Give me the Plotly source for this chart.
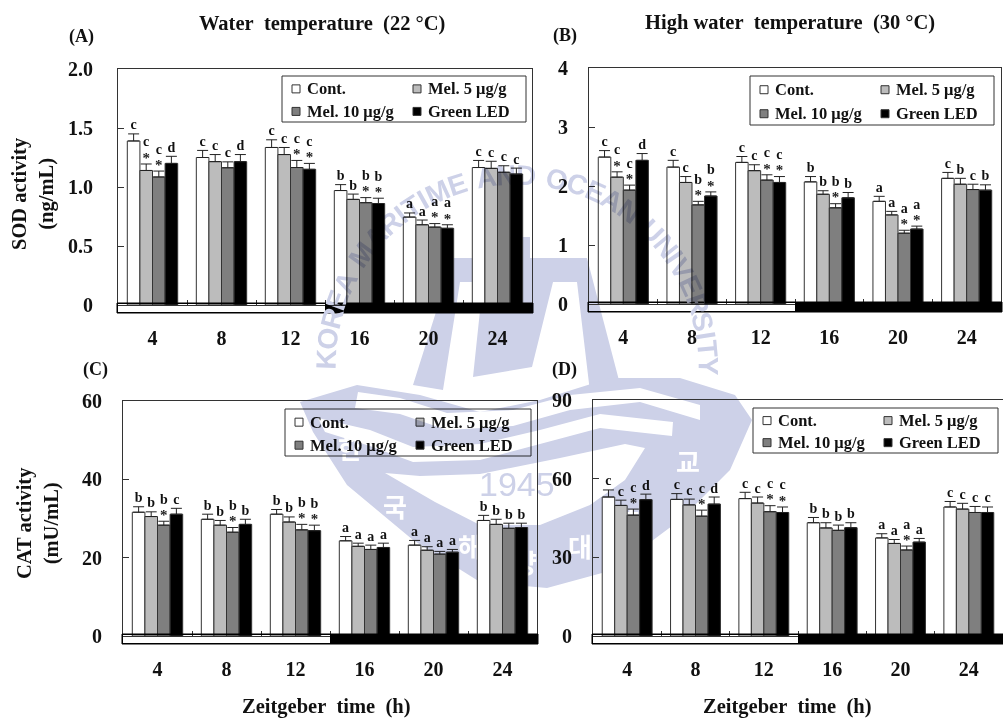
import math
import plotly.graph_objects as go

W, H = 1003, 720
GROUPS = [1, 2, 3, 4, 5, 6]
HOURS = ["4", "8", "12", "16", "20", "24"]
SERIES = ["Cont.", "Mel. 5 μg/g", "Mel. 10 μg/g", "Green LED"]
COLORS = ["#ffffff", "#bcbcbc", "#7f7f7f", "#000000"]

sod22_cont = [1.39, 1.25, 1.335, 0.97, 0.745, 1.165]
sod22_mel5 = [1.14, 1.215, 1.275, 0.895, 0.68, 1.158]
sod22_mel10 = [1.085, 1.163, 1.165, 0.867, 0.66, 1.125]
sod22_led = [1.20, 1.215, 1.15, 0.86, 0.65, 1.11]
sod22_cont_err = [0.06, 0.06, 0.065, 0.05, 0.035, 0.06]
sod22_mel5_err = [0.055, 0.06, 0.06, 0.045, 0.04, 0.06]
sod22_mel10_err = [0.05, 0.05, 0.06, 0.043, 0.03, 0.055]
sod22_led_err = [0.06, 0.06, 0.05, 0.045, 0.03, 0.05]
sod22_letters = ["cccd", "cccd", "cccc", "bbbb", "aaaa", "cccc"]
sod22_stars = ["0110", "0000", "0011", "0011", "0011", "0000"]

sod30_cont = [2.49, 2.32, 2.40, 2.07, 1.74, 2.13]
sod30_mel5 = [2.15, 2.06, 2.26, 1.86, 1.51, 2.03]
sod30_mel10 = [1.93, 1.68, 2.10, 1.63, 1.20, 1.94]
sod30_led = [2.435, 1.83, 2.06, 1.80, 1.27, 1.93]
sod30_cont_err = [0.11, 0.115, 0.10, 0.09, 0.085, 0.10]
sod30_mel5_err = [0.09, 0.10, 0.10, 0.06, 0.06, 0.10]
sod30_mel10_err = [0.085, 0.06, 0.09, 0.07, 0.05, 0.09]
sod30_led_err = [0.115, 0.07, 0.10, 0.09, 0.05, 0.09]
sod30_letters = ["cccd", "ccbb", "cccc", "bbbb", "aaaa", "cbcb"]
sod30_stars = ["0110", "0011", "0011", "0010", "0011", "0000"]

cat22_cont = [31.6, 29.8, 31.1, 24.3, 23.2, 29.5]
cat22_mel5 = [30.5, 28.3, 29.1, 22.9, 21.9, 28.5]
cat22_mel10 = [28.3, 26.5, 27.1, 22.1, 20.9, 27.5]
cat22_led = [31.1, 28.5, 26.9, 22.6, 21.4, 27.7]
cat22_cont_err = [1.4, 1.3, 1.2, 1.1, 1.2, 1.3]
cat22_mel5_err = [1.2, 1.2, 1.3, 0.8, 0.9, 1.3]
cat22_mel10_err = [1.0, 1.2, 1.4, 1.1, 0.7, 1.3]
cat22_led_err = [1.5, 1.3, 1.4, 1.1, 0.7, 1.1]
cat22_letters = ["bbbc", "bbbb", "bbbb", "aaaa", "aaaa", "bbbb"]
cat22_stars = ["0010", "0010", "0011", "0000", "0000", "0000"]

cat30_cont = [53, 52.1, 52.4, 43.2, 37.4, 49.2]
cat30_mel5 = [49.8, 50, 50.7, 41.2, 35.3, 48.4]
cat30_mel10 = [46.1, 45.7, 47.4, 40.3, 32.8, 47.1]
cat30_led = [52, 50.3, 47.1, 41.3, 35.8, 47.1]
cat30_cont_err = [2.7, 2.2, 2.4, 2.0, 1.6, 2.1]
cat30_mel5_err = [2.0, 2.2, 2.3, 2.0, 1.5, 2.2]
cat30_mel10_err = [2.3, 2.3, 2.3, 2.0, 1.5, 2.3]
cat30_led_err = [2.1, 2.7, 2.1, 1.9, 1.4, 2.1]
cat30_letters = ["cccd", "cccd", "cccc", "bbbb", "aaaa", "cccc"]
cat30_stars = ["0010", "0010", "0011", "0000", "0010", "0000"]

FONT = "Liberation Serif"
INK = "#111111"


def X(px):
    return px / W


def Y(py):
    return 1 - py / H


panels = [
    dict(key="A", vals=[sod22_cont, sod22_mel5, sod22_mel10, sod22_led],
         errs=[sod22_cont_err, sod22_mel5_err, sod22_mel10_err, sod22_led_err],
         letters=sod22_letters, stars=sod22_stars,
         box=(118, 532, 69, 305), top=2.0, ticks=[0, 0.5, 1, 1.5, 2],
         ticktext=["0", "0.5", "1.0", "1.5", "2.0"], legend=(282, 526, 76, 122), standoff=24),
    dict(key="B", vals=[sod30_cont, sod30_mel5, sod30_mel10, sod30_led],
         errs=[sod30_cont_err, sod30_mel5_err, sod30_mel10_err, sod30_led_err],
         letters=sod30_letters, stars=sod30_stars,
         box=(589, 1001, 68, 304), top=4, ticks=[0, 1, 2, 3, 4],
         ticktext=["0", "1", "2", "3", "4"], legend=(750, 994, 76, 125), standoff=20),
    dict(key="C", vals=[cat22_cont, cat22_mel5, cat22_mel10, cat22_led],
         errs=[cat22_cont_err, cat22_mel5_err, cat22_mel10_err, cat22_led_err],
         letters=cat22_letters, stars=cat22_stars,
         box=(123, 537, 401, 636), top=60, ticks=[0, 20, 40, 60],
         ticktext=["0", "20", "40", "60"], legend=(285, 531, 409, 456), standoff=20),
    dict(key="D", vals=[cat30_cont, cat30_mel5, cat30_mel10, cat30_led],
         errs=[cat30_cont_err, cat30_mel5_err, cat30_mel10_err, cat30_led_err],
         letters=cat30_letters, stars=cat30_stars,
         box=(593, 1003, 400, 636), top=90, ticks=[0, 30, 60, 90],
         ticktext=["0", "30", "60", "90"], legend=(753, 998, 408, 453), standoff=20),
]

fig = go.Figure()
shapes, annos = [], []
WM = "#cdd1e8"


def wm_poly(points, color=WM):
    path = "M " + " L ".join(f"{X(a):.5f},{Y(b):.5f}" for a, b in points) + " Z"
    shapes.append(dict(type="path", xref="paper", yref="paper", path=path,
                       fillcolor=color, line=dict(width=0), layer="below"))


# University seal watermark, behind the charts
wm_poly([(507, 237), (530, 237), (530, 260), (507, 260)])
wm_poly([(453, 258), (587, 258), (621, 388), (590, 392), (577, 282), (553, 282), (532, 367), (473, 377),
         (483, 282), (460, 282), (443, 390), (413, 385)])
wm_poly([(300, 402), (357, 385), (420, 395), (480, 412), (540, 400), (610, 378), (680, 378), (735, 395), (752, 420),
         (730, 470), (680, 520), (613, 570), (547, 588), (480, 582), (413, 540), (347, 485), (313, 432)])
wm_poly([(358, 392), (400, 398), (447, 413), (513, 410), (570, 395), (640, 388), (700, 405), (700, 420), (640, 402),
         (570, 410), (513, 426), (447, 430), (400, 414), (355, 408)], "#ffffff")
wm_poly([(318, 418), (370, 430), (413, 447), (480, 444), (540, 430), (600, 414), (673, 422), (672, 436), (600, 428),
         (540, 444), (480, 460), (413, 462), (370, 446), (325, 432)], "#ffffff")
wm_poly([(385, 473), (420, 476), (480, 474), (560, 458), (625, 444), (645, 448), (625, 480), (590, 505),
         (540, 525), (480, 525), (435, 502)], "#ffffff")
wm_text = "KOREA MARITIME AND OCEAN UNIVERSITY"
wm_adv = {"I": 0.33, "M": 0.9, " ": 0.4, "E": 0.7, "T": 0.68, "Y": 0.7, "S": 0.7, "A": 0.76, "R": 0.76, "K": 0.76,
          "O": 0.82, "N": 0.76, "D": 0.76, "C": 0.76, "U": 0.76, "V": 0.72}
wm_cx, wm_cy, wm_r = 517, 366, 191
wm_w = [wm_adv[c] for c in wm_text]
wm_pos, wm_run = [], 0.0
for w in wm_w:
    wm_pos.append(wm_run + w / 2)
    wm_run += w
for ch, pos in zip(wm_text, wm_pos):
    if ch == " ":
        continue
    ang = -181 + 184 * pos / wm_run
    a = math.radians(ang)
    annos.append(dict(xref="paper", yref="paper", x=X(wm_cx + wm_r * math.cos(a)), y=Y(wm_cy + wm_r * math.sin(a)),
                      text=f"<b>{ch}</b>", showarrow=False, textangle=ang + 90, xanchor="center", yanchor="middle",
                      font=dict(family="Liberation Sans", size=28, color=WM)))
annos.append(dict(xref="paper", yref="paper", x=X(517), y=Y(484), text="1945", showarrow=False,
                  xanchor="center", yanchor="middle",
                  font=dict(family="Liberation Sans", size=34, color=WM)))
# white seal lettering on the ring, in a full-page background subplot under the panels
seal_chars = list("한국해양대학교")
seal_px = [350, 395, 470, 525, 580, 635, 688]
seal_py = [452, 510, 550, 566, 550, 525, 465]
fig.add_trace(go.Scatter(x=seal_px, y=seal_py, text=seal_chars, mode="text", xaxis="x", yaxis="y", showlegend=False,
                         textfont=dict(family="Noto Sans CJK KR", size=26, color="#ffffff", weight="bold"),
                         cliponaxis=False))

layout_axes = dict(
    xaxis=dict(domain=[0, 1], range=[0, W], visible=False, anchor="y", automargin=False),
    yaxis=dict(domain=[0, 1], range=[H, 0], visible=False, anchor="x", automargin=False),
)
for n, p in enumerate(panels, start=2):
    suffix = str(n)
    xa, ya = "x" + suffix, "y" + suffix
    L, R, T, B = p["box"]
    unit = p["top"] / (B - T)
    for s, name in enumerate(SERIES):
        fig.add_trace(go.Bar(
            x=GROUPS, y=p["vals"][s], name=name, xaxis=xa, yaxis=ya, showlegend=False,
            marker=dict(color=COLORS[s], line=dict(color="#333333", width=1)),
            error_y=dict(type="data", symmetric=False, array=p["errs"][s], arrayminus=[0] * 6,
                         color="#222222", thickness=1, width=5.5)))
    lx, ly, tx, sx, sy = [], [], [], [], []
    for g in range(6):
        for s in range(4):
            cx = GROUPS[g] + (s - 1.5) * 0.73 / 4
            e = p["vals"][s][g] + p["errs"][s][g]
            star = p["stars"][g][s] == "1"
            if star:
                sx.append(cx)
                sy.append(e + 5 * unit)
            lx.append(cx)
            ly.append(e + (21 if star else 8) * unit)
            tx.append(p["letters"][g][s])
    fig.add_trace(go.Scatter(x=lx, y=ly, text=tx, mode="text", xaxis=xa, yaxis=ya, showlegend=False,
                             textfont=dict(family=FONT, size=14, color=INK, weight="bold"), cliponaxis=False))
    fig.add_trace(go.Scatter(x=sx, y=sy, text=["*"] * len(sx), mode="text", xaxis=xa, yaxis=ya, showlegend=False,
                             textposition="middle center",
                             textfont=dict(family=FONT, size=15, color="#222222", weight="bold"), cliponaxis=False))
    layout_axes["xaxis" + suffix] = dict(
        domain=[X(L), X(R)], range=[0.5, 6.5], anchor=ya, tickmode="array", tickvals=GROUPS, ticktext=HOURS,
        ticks="", showgrid=False, zeroline=False, showline=True, mirror=True, linecolor="#333333", linewidth=1,
        automargin=False, ticklabelstandoff=15, tickfont=dict(family=FONT, size=20, color=INK, weight="bold"),
        minor=dict(tickmode="array", tickvals=[1.5, 2.5, 3.5, 4.5, 5.5], ticks="inside", ticklen=5,
                   tickcolor="#333333", tickwidth=1, showgrid=False))
    layout_axes["yaxis" + suffix] = dict(
        domain=[Y(B), Y(T)], range=[0, p["top"]], anchor=xa, tickmode="array", tickvals=p["ticks"],
        ticktext=p["ticktext"], ticks="inside", ticklen=6, tickcolor="#333333", showgrid=False, zeroline=False,
        showline=True, mirror=True, linecolor="#333333", linewidth=1, automargin=False,
        ticklabelstandoff=p["standoff"] - 4, tickfont=dict(family=FONT, size=20, color=INK, weight="bold"))
    # day / night strip
    xmid = L + (R - L) / 2
    shapes.append(dict(type="rect", xref="paper", yref="paper", x0=X(L - 1), x1=X(R + 1), y0=Y(B + 8), y1=Y(B - 2),
                       fillcolor="#000000", line=dict(color="#000000", width=1), layer="above"))
    shapes.append(dict(type="rect", xref="paper", yref="paper", x0=X(L), x1=X(xmid), y0=Y(B + 7), y1=Y(B - 1),
                       fillcolor="#ffffff", line=dict(width=0), layer="above"))
    # legend box
    lL, lR, lT, lB = p["legend"]
    shapes.append(dict(type="rect", xref="paper", yref="paper", x0=X(lL), x1=X(lR), y0=Y(lB), y1=Y(lT),
                       fillcolor="rgba(255,255,255,0)", line=dict(color="#333333", width=1), layer="above"))
    rows = [lT + (lB - lT) * 0.28, lT + (lB - lT) * 0.77]
    cols = [lL + 10, lL + 131]
    for s, name in enumerate(SERIES):
        c, r = cols[s % 2], rows[s // 2]
        shapes.append(dict(type="rect", xref="paper", yref="paper", x0=X(c), x1=X(c + 8), y0=Y(r + 4), y1=Y(r - 4),
                           fillcolor=COLORS[s], line=dict(color="#333333", width=1), layer="above"))
        annos.append(dict(xref="paper", yref="paper", x=X(c + 13), y=Y(r), text=f"<b>{name}</b>", showarrow=False,
                          xanchor="left", yanchor="middle", font=dict(family=FONT, size=16.5, color=INK)))


def label(px, py, text, size, angle=0):
    annos.append(dict(xref="paper", yref="paper", x=X(px), y=Y(py), text=f"<b>{text}</b>", showarrow=False,
                      xanchor="center", yanchor="middle", textangle=angle,
                      font=dict(family=FONT, size=size, color=INK)))


label(322, 24, "Water&nbsp; temperature&nbsp; (22 °C)", 20.5)
label(790, 22, "High water&nbsp; temperature&nbsp; (30 °C)", 20.5)
label(81, 36, "(A)", 18)
label(565, 35, "(B)", 18)
label(95, 370, "(C)", 18)
label(564, 370, "(D)", 18)
label(33, 194, "SOD activity<br>(ng/mL)", 20.5, -90)
label(38, 523, "CAT activity<br>(mU/mL)", 20.5, -90)
label(326, 706, "Zeitgeber&nbsp; time&nbsp; (h)", 20.5)
label(787, 706, "Zeitgeber&nbsp; time&nbsp; (h)", 20.5)

fig.update_layout(width=W, height=H, margin=dict(l=0, r=0, t=0, b=0, pad=0), barmode="group", bargap=0.27,
                  bargroupgap=0, paper_bgcolor="#ffffff", plot_bgcolor="rgba(0,0,0,0)", showlegend=False,
                  shapes=shapes, annotations=annos, **layout_axes)
blend = ("document.body.style.margin='0';"
         "var i=document.querySelector('.infolayer');"
         "if(i){i.closest('svg').style.mixBlendMode='multiply';}")
fig.write_html("out.html", config=dict(displayModeBar=False), post_script=blend)
